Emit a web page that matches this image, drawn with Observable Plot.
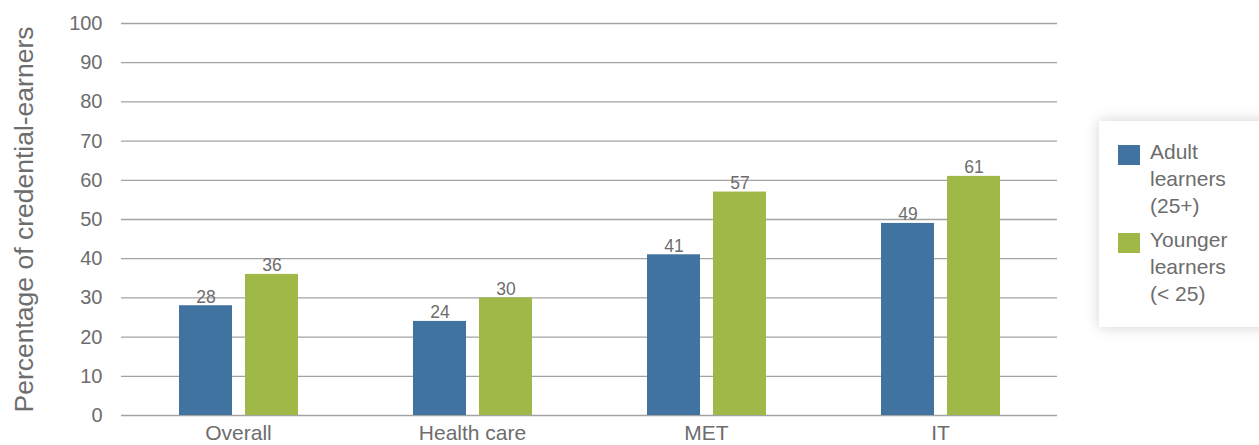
<!DOCTYPE html>
<html>
<head>
<meta charset="utf-8">
<script src="https://cdn.jsdelivr.net/npm/d3@7"></script>
<script src="https://cdn.jsdelivr.net/npm/@observablehq/plot@0.6"></script>
<style>
  html, body { margin: 0; padding: 0; background: #fff; }
  #wrap { position: relative; width: 1259px; height: 445px; overflow: hidden; font-family: "Liberation Sans", Arial, sans-serif; }
  #legend {
    position: absolute; left: 1099px; top: 121px; width: 200px; height: 206px;
    background: #fff; box-shadow: 0 0 14px rgba(0,0,0,0.18);
    color: #6d6d6d; font-size: 21px; line-height: 27px;
  }
  .item { position: absolute; left: 19px; }
  .sw { position: absolute; left: 0; top: 2px; width: 22px; height: 20px; }
  .lab { position: absolute; left: 32px; top: -5px; white-space: nowrap; }
</style>
</head>
<body>
<div id="wrap"></div>
<script>
const categories = ["Overall", "Health care", "MET", "IT"];
const seriesNames = ["Adult learners (25+)", "Younger learners (< 25)"];
const seriesLegendLines = [["Adult", "learners", "(25+)"], ["Younger", "learners", "(< 25)"]];
const adultValues = [28, 24, 41, 49];
const youngerValues = [36, 30, 57, 61];
const seriesColors = ["#4173a0", "#9fb848"];
const yTicks = [0, 10, 20, 30, 40, 50, 60, 70, 80, 90, 100];
const yTitle = "Percentage of credential-earners";

const rows = [];
categories.forEach((c, i) => {
  rows.push({category: c, series: seriesNames[0], value: adultValues[i]});
  rows.push({category: c, series: seriesNames[1], value: youngerValues[i]});
});

const textColor = "#6d6d6d";
const chart = Plot.plot({
  width: 1259,
  height: 445,
  marginLeft: 120,
  marginRight: 202,
  marginTop: 23,
  marginBottom: 30,
  style: {fontFamily: "'Liberation Sans', Arial, sans-serif", color: textColor, background: "transparent"},
  fx: {domain: categories, padding: 0, label: null},
  x: {domain: seriesNames, paddingInner: 0.197, paddingOuter: 0.869, axis: null},
  y: {domain: [0, 100], label: null},
  color: {domain: seriesNames, range: seriesColors},
  marks: [
    Plot.ruleY(yTicks, {stroke: "#a3a3a3", strokeWidth: 1.3}),
    Plot.barY(rows, {fx: "category", x: "series", y: "value", fill: "series"}),
    Plot.text(rows, {fx: "category", x: "series", y: "value", text: d => String(d.value),
      lineAnchor: "bottom", dy: -3, fontSize: 17.5, fill: textColor}),
    Plot.axisY({ticks: yTicks, tickSize: 0, tickPadding: 19, fontSize: 20, label: null, fill: textColor}),
    Plot.axisY({ticks: [], tickSize: 0, label: yTitle, labelAnchor: "center", labelArrow: "none",
      labelOffset: 107, fontSize: 26.5, fill: textColor}),
    Plot.axisFx({anchor: "bottom", tickSize: 0, tickPadding: 10, fontSize: 21, label: null, fill: textColor})
  ]
});

const wrap = document.getElementById("wrap");
wrap.appendChild(chart);

const legend = document.createElement("div");
legend.id = "legend";
seriesNames.forEach((s, i) => {
  const item = document.createElement("div");
  item.className = "item";
  item.style.top = (22 + i * 88) + "px";
  const sw = document.createElement("div");
  sw.className = "sw";
  sw.style.background = seriesColors[i];
  const lab = document.createElement("div");
  lab.className = "lab";
  lab.innerHTML = seriesLegendLines[i].map(t => t.replace(/&/g, "&amp;").replace(/</g, "&lt;")).join("<br>");
  item.appendChild(sw);
  item.appendChild(lab);
  legend.appendChild(item);
});
wrap.appendChild(legend);
</script>
</body>
</html>
